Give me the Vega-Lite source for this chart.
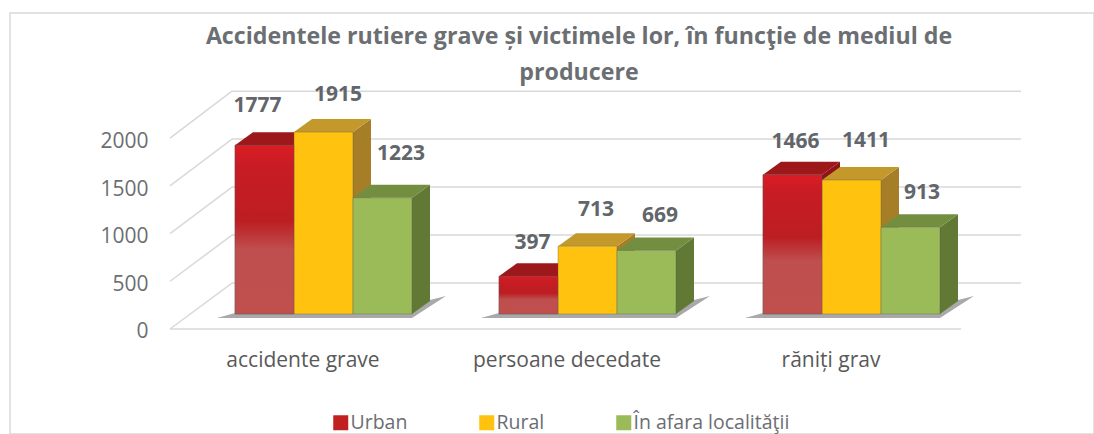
{
"$schema":"https://vega.github.io/schema/vega-lite/v6.json",
"width":1084,"height":421,
"autosize":{"type":"none"},
"padding":{"left":10,"top":13,"right":0,"bottom":0},
"background":"white",
"view":{"stroke":"#d9d9d9","strokeWidth":1.5},
"title":{"text":["Accidentele rutiere grave și victimele lor, în funcţie de mediul de","producere"],"anchor":"middle","frame":"group","dx":27,"offset":-72,"lineHeight":36,"font":"Open Sans","fontSize":23.2,"fontWeight":"bold","color":"#6b6e72"},
"config":{"font":"Open Sans"},
"data":{"values":[
{"categorie":"accidente grave","mediu":"Urban","valoare":1777},
{"categorie":"accidente grave","mediu":"Rural","valoare":1915},
{"categorie":"accidente grave","mediu":"În afara localităţii","valoare":1223},
{"categorie":"persoane decedate","mediu":"Urban","valoare":397},
{"categorie":"persoane decedate","mediu":"Rural","valoare":713},
{"categorie":"persoane decedate","mediu":"În afara localităţii","valoare":669},
{"categorie":"răniți grav","mediu":"Urban","valoare":1466},
{"categorie":"răniți grav","mediu":"Rural","valoare":1411},
{"categorie":"răniți grav","mediu":"În afara localităţii","valoare":913}
]},
"transform":[
{"calculate":"indexof(['accidente grave','persoane decedate','răniți grav'],datum.categorie)","as":"gi"},
{"calculate":"indexof(['Urban','Rural','În afara localităţii'],datum.mediu)","as":"si"},
{"calculate":"datum.gi+(datum.si-1.5)*0.2235","as":"L"},
{"calculate":"datum.L+0.2235","as":"R"},
{"calculate":"datum.categorie+datum.mediu","as":"id"}
],
"resolve":{"scale":{"color":"independent"}},
"layer":[
{
"data":{"values":[{"t":0},{"t":500},{"t":1000},{"t":1500},{"t":2000}]},
"transform":[{"calculate":"datum.t*1.01+326","as":"back"},{"calculate":"-0.3466","as":"xa"},{"calculate":"2.642","as":"xb"}],
"mark":{"type":"rule","color":"#d9d9d9","strokeWidth":1.5},
"encoding":{
"x":{"field":"xa","type":"quantitative","scale":{"domain":[-1.1875,2.9186]},"title":null,
 "axis":{"values":[0,1,2],"orient":"bottom","offset":-87,"labelOffset":-21,"labelPadding":2,"labelLimit":500,"domain":false,"ticks":false,"grid":false,"labelFontSize":21,"labelColor":"#595959","labelFont":"Open Sans","labelExpr":"['accidente grave','persoane decedate','răniți grav'][datum.value]"}},
"x2":{"field":"xb"},
"y":{"field":"back","type":"quantitative","scale":{"domain":[-1263.2,3168.4]},"title":null,
 "axis":{"values":[0,500,1000,1500,2000],"format":"d","orient":"left","offset":-138,"labelOffset":18,"labelPadding":0,"domain":false,"ticks":false,"grid":false,"labelFontSize":21,"labelColor":"#6b6e72","labelFont":"Open Sans"}}
}},
{
"data":{"values":[{"t":0},{"t":500},{"t":1000},{"t":1500},{"t":2000}]},
"transform":[{"calculate":"datum.t*1.01+326","as":"back"},{"calculate":"datum.t*1.005-158","as":"front"},{"calculate":"-0.5814","as":"xa"},{"calculate":"-0.3466","as":"xb"}],
"mark":{"type":"rule","color":"#d9d9d9","strokeWidth":1.5},
"encoding":{
"x":{"field":"xa","type":"quantitative","scale":{"domain":[-1.1875,2.9186]},"title":null},
"x2":{"field":"xb"},
"y":{"field":"front","type":"quantitative","scale":{"domain":[-1263.2,3168.4]},"title":null},
"y2":{"field":"back"}
}},
{
"data":{"values":[{"t":0}]},
"transform":[{"calculate":"datum.t*1.005-158","as":"front"},{"calculate":"-0.5814","as":"xa"},{"calculate":"2.4148","as":"xb"}],
"mark":{"type":"rule","color":"#d9d9d9","strokeWidth":1.5},
"encoding":{
"x":{"field":"xa","type":"quantitative","scale":{"domain":[-1.1875,2.9186]},"title":null},
"x2":{"field":"xb"},
"y":{"field":"front","type":"quantitative","scale":{"domain":[-1263.2,3168.4]},"title":null}
}},
{
"transform":[
{"filter":"datum.si==0"},
{"calculate":"[0,1,2,3]","as":"p"},{"flatten":["p"]},
{"calculate":"[datum.gi-0.40345,datum.gi-0.33525,datum.gi+0.33525,datum.gi+0.46405][datum.p]","as":"sx"},
{"calculate":"[-42,-42,-42,190][datum.p]","as":"sy"},
{"calculate":"[-42,10,100,190][datum.p]","as":"sy2"}
],
"mark":{"type":"area","orient":"vertical","color":"#8c8c8c","opacity":0.75},
"encoding":{
"x":{"field":"sx","type":"quantitative","scale":{"domain":[-1.1875,2.9186]},"title":null},
"y":{"field":"sy","type":"quantitative","scale":{"domain":[-1263.2,3168.4]},"title":null},
"y2":{"field":"sy2"},
"detail":{"field":"categorie"}
}},
{
"transform":[
{"calculate":"[0,1]","as":"p"},{"flatten":["p"]},
{"calculate":"datum.R+datum.p*0.0682","as":"sx"},
{"calculate":"datum.p*137","as":"sy"},
{"calculate":"datum.valoare+datum.p*137","as":"sy2"}
],
"mark":{"type":"area","orient":"vertical"},
"encoding":{
"x":{"field":"sx","type":"quantitative","scale":{"domain":[-1.1875,2.9186]},"title":null},
"y":{"field":"sy","type":"quantitative","scale":{"domain":[-1263.2,3168.4]},"title":null},
"y2":{"field":"sy2"},
"detail":{"field":"id"},
"color":{"field":"mediu","type":"nominal","legend":null,"scale":{"domain":["Urban","Rural","În afara localităţii"],"range":["#8f1418","#a67e28","#627835"]}}
}},
{
"transform":[
{"calculate":"[0,1,2,3]","as":"p"},{"flatten":["p"]},
{"calculate":"[datum.L,datum.L+0.0682,datum.R,datum.R+0.0682][datum.p]","as":"sx"},
{"calculate":"[datum.valoare,datum.valoare,datum.valoare,datum.valoare+137][datum.p]","as":"sy"},
{"calculate":"[datum.valoare,datum.valoare+137,datum.valoare+137,datum.valoare+137][datum.p]","as":"sy2"}
],
"mark":{"type":"area","orient":"vertical"},
"encoding":{
"x":{"field":"sx","type":"quantitative","scale":{"domain":[-1.1875,2.9186]},"title":null},
"y":{"field":"sy","type":"quantitative","scale":{"domain":[-1263.2,3168.4]},"title":null},
"y2":{"field":"sy2"},
"detail":{"field":"id"},
"color":{"field":"mediu","type":"nominal","legend":null,"scale":{"domain":["Urban","Rural","În afara localităţii"],"range":["#9c181a","#c2992a","#748e40"]}}
}},
{
"mark":{"type":"rect","stroke":"#555555","strokeOpacity":0.35,"strokeWidth":1},
"encoding":{
"x":{"field":"L","type":"quantitative","scale":{"domain":[-1.1875,2.9186]},"title":null},
"x2":{"field":"R"},
"y":{"field":"valoare","type":"quantitative","scale":{"domain":[-1263.2,3168.4]},"title":null},
"y2":{"datum":0},
"color":{"field":"mediu","type":"nominal","title":null,
 "scale":{"domain":["Urban","Rural","În afara localităţii"],"range":["#c0201f","#ffc20f","#9bbb59"]},
 "legend":{"orient":"none","legendX":321,"legendY":400,"direction":"horizontal","columns":3,"gridAlign":"none","columnPadding":69,"symbolType":"square","symbolSize":225,"symbolStrokeWidth":0,"symbolOpacity":1,"labelFontSize":19.5,"labelLimit":400,"labelColor":"#6b6e72","labelFont":"Open Sans","labelOffset":0,"padding":0}}
}},
{
"transform":[{"filter":"datum.si==0"}],
"mark":{"type":"rect","stroke":"#555555","strokeOpacity":0.35,"strokeWidth":1,
 "color":{"gradient":"linear","x1":0,"y1":0,"x2":0,"y2":1,"stops":[{"offset":0,"color":"#dc1c24"},{"offset":0.12,"color":"#c81c24"},{"offset":0.45,"color":"#bc1e22"},{"offset":0.62,"color":"#bf4f4f"},{"offset":1,"color":"#c0504d"}]}},
"encoding":{
"x":{"field":"L","type":"quantitative","scale":{"domain":[-1.1875,2.9186]},"title":null},
"x2":{"field":"R"},
"y":{"field":"valoare","type":"quantitative","scale":{"domain":[-1263.2,3168.4]},"title":null},
"y2":{"datum":0}
}},
{
"transform":[
{"calculate":"[-7,14.5,18.5,4,8.5,13.5,3,14.5,11.5][datum.gi*3+datum.si]/264","as":"ox"},
{"calculate":"[39,37,44,33,36,34,33,39,34][datum.gi*3+datum.si]/0.095","as":"oy"},
{"calculate":"(datum.L+datum.R)/2+datum.ox","as":"tx"},
{"calculate":"datum.valoare+datum.oy","as":"ty"}
],
"mark":{"type":"text","font":"Open Sans","fontSize":21,"fontWeight":"bold","color":"#62656a","baseline":"middle","align":"center"},
"encoding":{
"x":{"field":"tx","type":"quantitative","scale":{"domain":[-1.1875,2.9186]},"title":null},
"y":{"field":"ty","type":"quantitative","scale":{"domain":[-1263.2,3168.4]},"title":null},
"text":{"field":"valoare","type":"quantitative","format":"d"}
}}
]
}
